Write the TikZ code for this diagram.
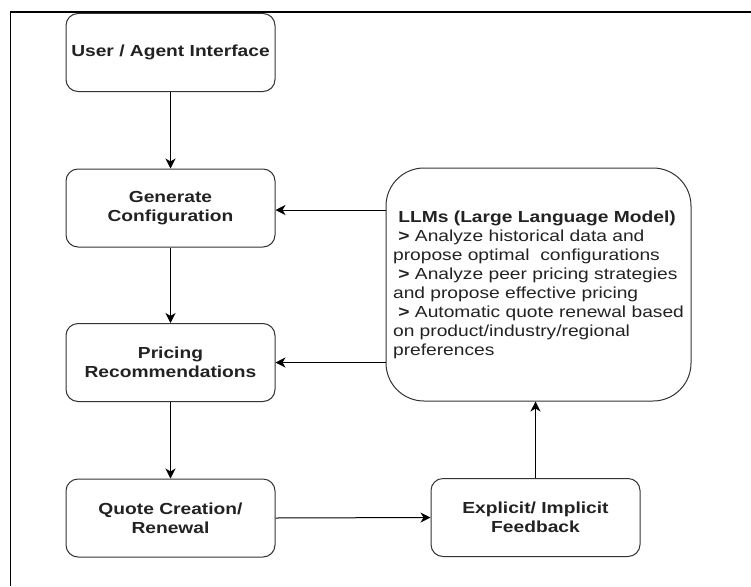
\documentclass[tikz,border=0pt]{standalone}
\usepackage{fontspec}
\setmainfont{Liberation Sans}[FakeStretch=1.2]
\usetikzlibrary{arrows.meta}
\definecolor{boxline}{HTML}{333333}
\definecolor{txt}{HTML}{222222}
\begin{document}
\begin{tikzpicture}[x=1pt,y=-1pt,
  box/.style={draw=boxline, line width=1pt, rounded corners=12pt, minimum width=209pt, minimum height=78pt,
    align=center, text=txt, font=\fontsize{16}{19}\selectfont\bfseries, inner sep=4pt},
  bigbox/.style={draw=boxline, line width=1pt, rounded corners=38pt, minimum width=305pt, minimum height=233pt,
    align=left, text=txt, font=\fontsize{16}{19}\selectfont, inner sep=4pt},
  conn/.style={draw=black, line width=1pt, -{Stealth[length=10pt,width=10pt,inset=3pt]}},
  frame/.style={draw=black, line width=1.6pt}]
\useasboundingbox (0,0) rectangle (751,586);
\coordinate (fbl) at (10.5,586);
\coordinate (ftl) at (10.5,12);
\coordinate (ftr) at (751,12);
\draw[frame] (fbl) -- (ftl) -- (ftr);

\node[box] (ui) at (170.5,52.5) {User / Agent Interface};
\node[box] (gen) at (170.5,208) {Generate\\Configuration};
\node[box] (price) at (170.5,362.5) {Pricing\\Recommendations};
\node[box] (quote) at (170.5,518) {Quote Creation/\\Renewal};
\node[box] (fb) at (535.5,517.5) {Explicit/ Implicit\\Feedback};
\node[bigbox] (llm) at (538.5,284.5) {\textbf{\ LLMs (Large Language Model)}\\
\ \textbf{>} Analyze historical data and\\
propose optimal\ \ configurations\\
\ \textbf{>} Analyze peer pricing strategies\\
and propose effective pricing\\
\ \textbf{>} Automatic quote renewal based\\
on product/industry/regional\\
preferences};

\draw[conn] (ui.south) -- (gen.north);
\draw[conn] (gen.south) -- (price.north);
\draw[conn] (price.south) -- (quote.north);
\draw[conn] (quote.east) -- (fb.west);
\draw[conn] (fb.north) -- (fb.north |- llm.south);
\draw[conn] ([yshift=-2pt]llm.west |- gen.east) -- ([yshift=-2pt]gen.east);
\draw[conn] (llm.west |- price.east) -- (price.east);
\end{tikzpicture}
\end{document}
